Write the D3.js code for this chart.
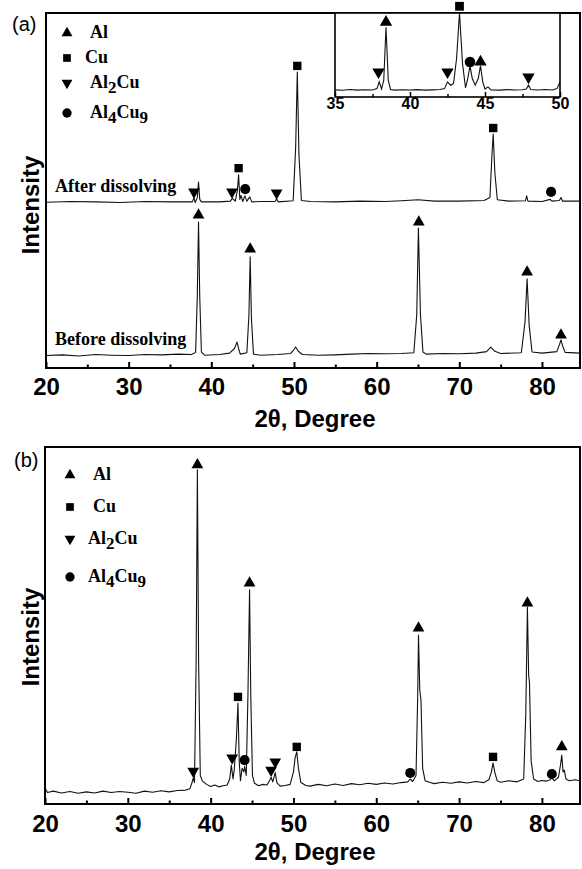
<!DOCTYPE html>
<html>
<head>
<meta charset="utf-8">
<script src="https://cdn.jsdelivr.net/npm/d3@7"></script>
<style>
body { margin: 0; background: #fff; }
svg { display: block; }
</style>
</head>
<body>
<svg id="chart" width="582" height="869"></svg>
<script>
// tick values (2 theta, degree)
var majorTicks = [20, 30, 40, 50, 60, 70, 80];
var minorTicks = [25, 35, 45, 55, 65, 75];
var insetMajor = [35, 40, 45, 50];
var insetMinor = [37.5, 42.5, 47.5];

// phases shown in the legends
var phases = ['Al', 'Cu', 'Al2Cu', 'Al4Cu9'];

// (a) before dissolving: [2theta, intensity a.u.]
var beforeTrace = [
    [20, 3.5], [22, 3.7], [24, 3.4], [26, 3.8], [28, 3.6], [30, 3.5], [32, 3.8], [34, 3.7], [36, 3.9], [37.6, 3.8],
    [38.1, 4.4], [38.3, 20], [38.45, 41.1], [38.6, 20], [38.8, 4.5], [39.2, 3.6], [41, 3.8], [42.2, 4.2],
    [42.8, 5.5], [43.1, 7.3], [43.3, 5.5], [43.5, 3.9], [44.3, 4.3], [44.55, 15], [44.7, 31.3], [44.85, 14],
    [45.1, 3.9], [46, 3.6], [48, 3.8], [49.6, 4.1], [50.0, 5.2], [50.2, 5.9], [50.5, 4.8], [51, 3.8], [53, 3.6],
    [55, 3.7], [57, 3.9], [59, 4.1], [61, 4.0], [63, 4.1], [64.5, 4.3], [64.85, 15], [65.05, 39.4], [65.3, 15],
    [65.6, 4.5], [66, 3.9], [68, 4.1], [70, 4.0], [72, 4.2], [73.3, 4.6], [73.8, 5.9], [74.3, 4.7], [75, 4.1],
    [77.5, 4.3], [77.95, 13], [78.2, 25.1], [78.45, 12], [78.8, 4.5], [80, 4.2], [81.8, 4.6], [82.1, 6.5],
    [82.3, 7.9], [82.5, 6.2], [82.8, 4.4], [84.6, 4.2]
];

// (a) after dissolving
var afterTrace = [
    [20, 46.7], [23, 46.9], [26, 46.8], [29, 46.6], [32, 46.9], [35, 46.8], [37.7, 46.8], [37.9, 48], [38.05, 46.6],
    [38.3, 48], [38.45, 52.4], [38.6, 47.5], [38.8, 46.8], [41, 46.8], [42.3, 47], [42.55, 47.8], [42.9, 47],
    [43.15, 50], [43.3, 54.4], [43.45, 47.5], [43.6, 48.6], [43.8, 46.9], [44.05, 48.5], [44.3, 47], [44.65, 48.2],
    [44.9, 46.8], [46, 46.9], [47.7, 46.9], [47.9, 47.6], [48.1, 46.8], [49.9, 47.1], [50.2, 62], [50.4, 83.4],
    [50.6, 60], [50.9, 47.2], [52, 46.9], [55, 46.8], [58, 47], [61, 46.9], [63, 47.1], [65, 47.4], [67, 47],
    [70, 47], [73, 47.2], [73.7, 48], [73.95, 60], [74.1, 65.9], [74.3, 55], [74.6, 47.4], [76, 47], [78, 47.1],
    [78.15, 48.5], [78.3, 47], [80, 46.9], [81.0, 47.5], [81.2, 47], [82.1, 47.2], [82.3, 48], [82.5, 47], [84.6, 47]
];

// (a) inset, 35-50 degree of the after dissolving pattern
var insetTrace = [
    [35, 8.5], [35.5, 8], [36, 9], [36.5, 8.2], [37, 8.7], [37.5, 8.4], [37.8, 10], [37.95, 18], [38.1, 9.5],
    [38.25, 20], [38.4, 83], [38.55, 20], [38.7, 9], [39, 8.2], [39.5, 8.6], [40, 8.3], [40.5, 8.8], [41, 8.2],
    [41.5, 8.5], [42, 8.9], [42.3, 10], [42.5, 18], [42.7, 14], [42.9, 16], [43.1, 45], [43.3, 100], [43.5, 40],
    [43.7, 11], [43.85, 22], [44.0, 37], [44.15, 22], [44.35, 14], [44.55, 22], [44.7, 37], [44.85, 18],
    [45.0, 9.5], [45.2, 12], [45.4, 8.5], [46, 8.2], [46.5, 8.8], [47, 8.3], [47.5, 8.6], [47.75, 9.5],
    [47.9, 14], [48.05, 9], [48.5, 8.4], [49, 8.9], [49.5, 8.3], [49.8, 10], [50, 18]
];

// (b) pattern
var bTrace = [
    [20, 4.5], [20.3, 3.2], [21, 3.6], [22, 3.1], [23, 3.5], [24, 3.0], [25, 3.4], [26, 3.1], [27, 3.6], [28, 3.2],
    [29, 3.5], [30, 3.3], [31, 3.0], [32, 3.6], [33, 3.3], [34, 3.7], [35, 3.4], [36, 3.8], [37, 3.9], [37.5, 4.3],
    [37.75, 6], [37.9, 7.3], [38.05, 6], [38.25, 40], [38.4, 93.6], [38.55, 40], [38.75, 8], [39, 6.5], [39.5, 5.5],
    [40, 4.9], [40.5, 5.3], [41, 4.8], [41.5, 5.1], [42, 5.3], [42.3, 7], [42.5, 10.9], [42.7, 7], [42.85, 9.5],
    [43.1, 18], [43.3, 28.3], [43.45, 12], [43.6, 6.5], [43.8, 10], [44.0, 9], [44.1, 10.5], [44.3, 8], [44.5, 30],
    [44.7, 60], [44.85, 30], [45.05, 8], [45.3, 5.8], [45.8, 5.1], [46.3, 5.5], [46.8, 5.3], [47.1, 6.5],
    [47.3, 7.5], [47.5, 6.2], [47.8, 8.8], [48.0, 6], [48.4, 5], [49, 5.2], [49.6, 5.5], [50.0, 9], [50.2, 13],
    [50.4, 14.6], [50.6, 10], [50.9, 6], [51.5, 5.2], [52, 5.0], [53, 5.5], [54, 5.1], [55, 5.6], [56, 5.2],
    [57, 5.7], [58, 5.4], [59, 5.8], [60, 5.5], [61, 5.9], [62, 5.6], [63, 6.0], [63.8, 6.2], [64.1, 7], [64.4, 6.3],
    [64.8, 8], [65.0, 30], [65.1, 47.3], [65.25, 32], [65.4, 29], [65.6, 10], [65.9, 6.5], [66.5, 6], [67, 5.7],
    [68, 6.1], [69, 5.8], [70, 6.2], [71, 5.9], [72, 6.3], [73, 6.0], [73.6, 6.8], [73.9, 9], [74.1, 11.5],
    [74.3, 9], [74.6, 6.5], [75, 6.1], [76, 6.5], [77, 6.2], [77.8, 7], [78.05, 25], [78.25, 55.2], [78.4, 36],
    [78.5, 34], [78.7, 12], [79, 7], [79.5, 6.3], [80, 6.6], [80.5, 6.4], [81, 6.8], [81.2, 7.3], [81.5, 6.5],
    [82.0, 7.5], [82.25, 11], [82.4, 13.7], [82.55, 9], [82.7, 9.5], [82.9, 7], [83.3, 6.5], [84, 6.8], [84.6, 6.5]
];

// peak markers: [phase, 2theta, intensity]
var beforeMarks = [['Al', 38.45, 43.1], ['Al', 44.7, 33.5], ['Al', 65.1, 41.1], ['Al', 78.2, 27], ['Al', 82.3, 9.3]];
var afterMarks = [['Al2Cu', 37.9, 49.6], ['Al2Cu', 42.5, 49.6], ['Cu', 43.3, 56.3], ['Al4Cu9', 44.1, 50.4],
    ['Al2Cu', 47.9, 49.3], ['Cu', 50.4, 85.1], ['Cu', 74.1, 67.6], ['Al4Cu9', 81.1, 49.6]];
var insetMarks = [['Al2Cu', 37.9, 29.8], ['Al', 38.4, 89], ['Al2Cu', 42.5, 29.8], ['Cu', 43.3, 108],
    ['Al4Cu9', 44.0, 41.7], ['Al', 44.7, 41.7], ['Al2Cu', 47.9, 23.8]];
var bMarks = [['Al2Cu', 37.9, 9.2], ['Al', 38.4, 95], ['Al2Cu', 42.6, 12.9], ['Cu', 43.3, 30], ['Al4Cu9', 44.1, 12.3],
    ['Al', 44.7, 61.9], ['Al2Cu', 47.3, 9.5], ['Al2Cu', 47.8, 11.8], ['Cu', 50.4, 16], ['Al4Cu9', 64.1, 8.7],
    ['Al', 65.1, 49.3], ['Cu', 74.1, 13.2], ['Al', 78.25, 56.3], ['Al4Cu9', 81.2, 8.4], ['Al', 82.4, 16]];

var svg = d3.select('#chart');
var sans = 'Liberation Sans, Arial, sans-serif';
var serif = 'Liberation Serif, Times New Roman, serif';

function symbolFor(phase) {
    if (phase === 'Cu') return d3.symbolSquare;
    if (phase === 'Al4Cu9') return d3.symbolCircle;
    return d3.symbolTriangle;
}

function drawMarks(g, marks, x, y, scale) {
    g.selectAll(null)
        .data(marks)
        .enter()
        .append('path')
        .attr('d', function(d) {
            var s = d[0] === 'Cu' ? 70 : d[0] === 'Al4Cu9' ? 80 : 60;
            return d3.symbol().type(symbolFor(d[0])).size(s * scale)();
        })
        .attr('transform', function(d) {
            return 'translate(' + x(d[1]) + ',' + y(d[2]) + ')' + (d[0] === 'Al2Cu' ? ' rotate(180)' : '');
        })
        .attr('fill', '#000');
}

function phaseText(sel, phase, size) {
    var parts = phase === 'Al2Cu' ? [['Al', 0], ['2', 1], ['Cu', 0]]
        : phase === 'Al4Cu9' ? [['Al', 0], ['4', 1], ['Cu', 0], ['9', 1]] : [[phase, 0]];
    var shift = 0;
    parts.forEach(function(p) {
        var dy = p[1] ? 5 - shift : -shift;
        shift = p[1] ? 5 : 0;
        sel.append('tspan').attr('dy', dy).attr('font-size', p[1] ? size - 1 : size).text(p[0]);
    });
}

function drawPanel(o) {
    var x = d3.scaleLinear().domain([20, 84.6]).range([o.left, o.right]);
    var y = d3.scaleLinear().domain([0, 100]).range([o.bottom, o.top]);
    var g = svg.append('g');
    var line = d3.line().x(function(d) { return x(d[0]); }).y(function(d) { return y(d[1]); });

    o.traces.forEach(function(t) {
        g.append('path').datum(t)
            .attr('d', line)
            .attr('fill', 'none')
            .attr('stroke', '#111')
            .attr('stroke-width', 1.1)
            .attr('stroke-linejoin', 'round');
    });
    o.marks.forEach(function(m) { drawMarks(g, m, x, y, 1); });

    var major = d3.axisBottom(x).tickValues(majorTicks).tickSizeInner(-6).tickSizeOuter(0).tickPadding(o.pad);
    var minor = d3.axisBottom(x).tickValues(minorTicks).tickSizeInner(-3.5).tickSizeOuter(0).tickFormat('');
    var ax = g.append('g').attr('transform', 'translate(0,' + o.bottom + ')').call(major);
    g.append('g').attr('transform', 'translate(0,' + o.bottom + ')').call(minor)
        .select('.domain').remove();
    ax.select('.domain').remove();
    ax.selectAll('text').attr('font-family', sans).attr('font-weight', 'bold').attr('font-size', 24).attr('fill', '#000');
    g.selectAll('.tick line').attr('stroke', '#000').attr('stroke-width', 2);

    g.append('rect')
        .attr('x', o.left).attr('y', o.top)
        .attr('width', o.right - o.left).attr('height', o.bottom - o.top)
        .attr('fill', 'none').attr('stroke', '#000').attr('stroke-width', 2);

    g.append('text')
        .attr('x', 315).attr('y', o.xlabelY)
        .attr('text-anchor', 'middle')
        .attr('font-family', sans).attr('font-weight', 'bold').attr('font-size', 24)
        .text('2\u03b8, Degree');

    g.append('text')
        .attr('transform', 'translate(39,' + o.ylabelY + ') rotate(-90)')
        .attr('text-anchor', 'middle')
        .attr('font-family', sans).attr('font-weight', 'bold').attr('font-size', 24)
        .text('Intensity');

    g.append('text')
        .attr('x', o.tagX).attr('y', o.tagY)
        .attr('font-family', sans).attr('font-size', 20)
        .text(o.tag);

    // legend
    var leg = g.append('g');
    phases.forEach(function(p, i) {
        var ly = o.legY[i];
        drawMarks(leg, [[p, 0, 0]], function() { return o.legX; }, function() { return ly; }, 0.85);
        var t = leg.append('text')
            .attr('x', o.legTextX[i]).attr('y', ly + 5)
            .attr('font-family', serif).attr('font-weight', 'bold').attr('font-size', 18);
        phaseText(t, p, 18);
    });
    return { x: x, y: y, g: g };
}

var a = drawPanel({
    left: 46, right: 580, top: 13, bottom: 368, pad: 10,
    traces: [beforeTrace, afterTrace], marks: [beforeMarks, afterMarks],
    xlabelY: 427, ylabelY: 205, tag: '(a)', tagX: 12, tagY: 31,
    legX: 67, legY: [33, 58, 83, 113], legTextX: [90, 85, 90, 90]
});

a.g.append('text').attr('x', 55).attr('y', 192)
    .attr('font-family', serif).attr('font-weight', 'bold').attr('font-size', 18)
    .text('After dissolving');
a.g.append('text').attr('x', 55).attr('y', 345)
    .attr('font-family', serif).attr('font-weight', 'bold').attr('font-size', 18)
    .text('Before dissolving');

// inset
var ix = d3.scaleLinear().domain([35, 50]).range([335, 560]);
var iy = d3.scaleLinear().domain([0, 100]).range([97, 13]);
var ig = svg.append('g');
ig.append('rect').attr('x', 335).attr('y', 13).attr('width', 225).attr('height', 84).attr('fill', '#fff');
ig.append('path').datum(insetTrace)
    .attr('d', d3.line().x(function(d) { return ix(d[0]); }).y(function(d) { return iy(d[1]); }))
    .attr('fill', 'none').attr('stroke', '#111').attr('stroke-width', 1.1);
drawMarks(ig, insetMarks, ix, iy, 1.1);
var iax = ig.append('g').attr('transform', 'translate(0,97)')
    .call(d3.axisBottom(ix).tickValues(insetMajor).tickSizeInner(-5).tickSizeOuter(0).tickPadding(1));
ig.append('g').attr('transform', 'translate(0,97)')
    .call(d3.axisBottom(ix).tickValues(insetMinor).tickSizeInner(-3).tickSizeOuter(0).tickFormat(''))
    .select('.domain').remove();
iax.select('.domain').remove();
ig.selectAll('.tick line').attr('stroke', '#000').attr('stroke-width', 1.5);
iax.selectAll('text').attr('font-family', sans).attr('font-weight', 'bold').attr('font-size', 16).attr('fill', '#000');
ig.append('rect').attr('x', 335).attr('y', 13).attr('width', 225).attr('height', 84)
    .attr('fill', 'none').attr('stroke', '#000').attr('stroke-width', 1.6);

drawPanel({
    left: 45, right: 580, top: 447, bottom: 804, pad: 11,
    traces: [bTrace], marks: [bMarks],
    xlabelY: 860, ylabelY: 637, tag: '(b)', tagX: 14, tagY: 467,
    legX: 70, legY: [475, 507, 539, 577], legTextX: [93, 93, 88, 88]
});
</script>
</body>
</html>
